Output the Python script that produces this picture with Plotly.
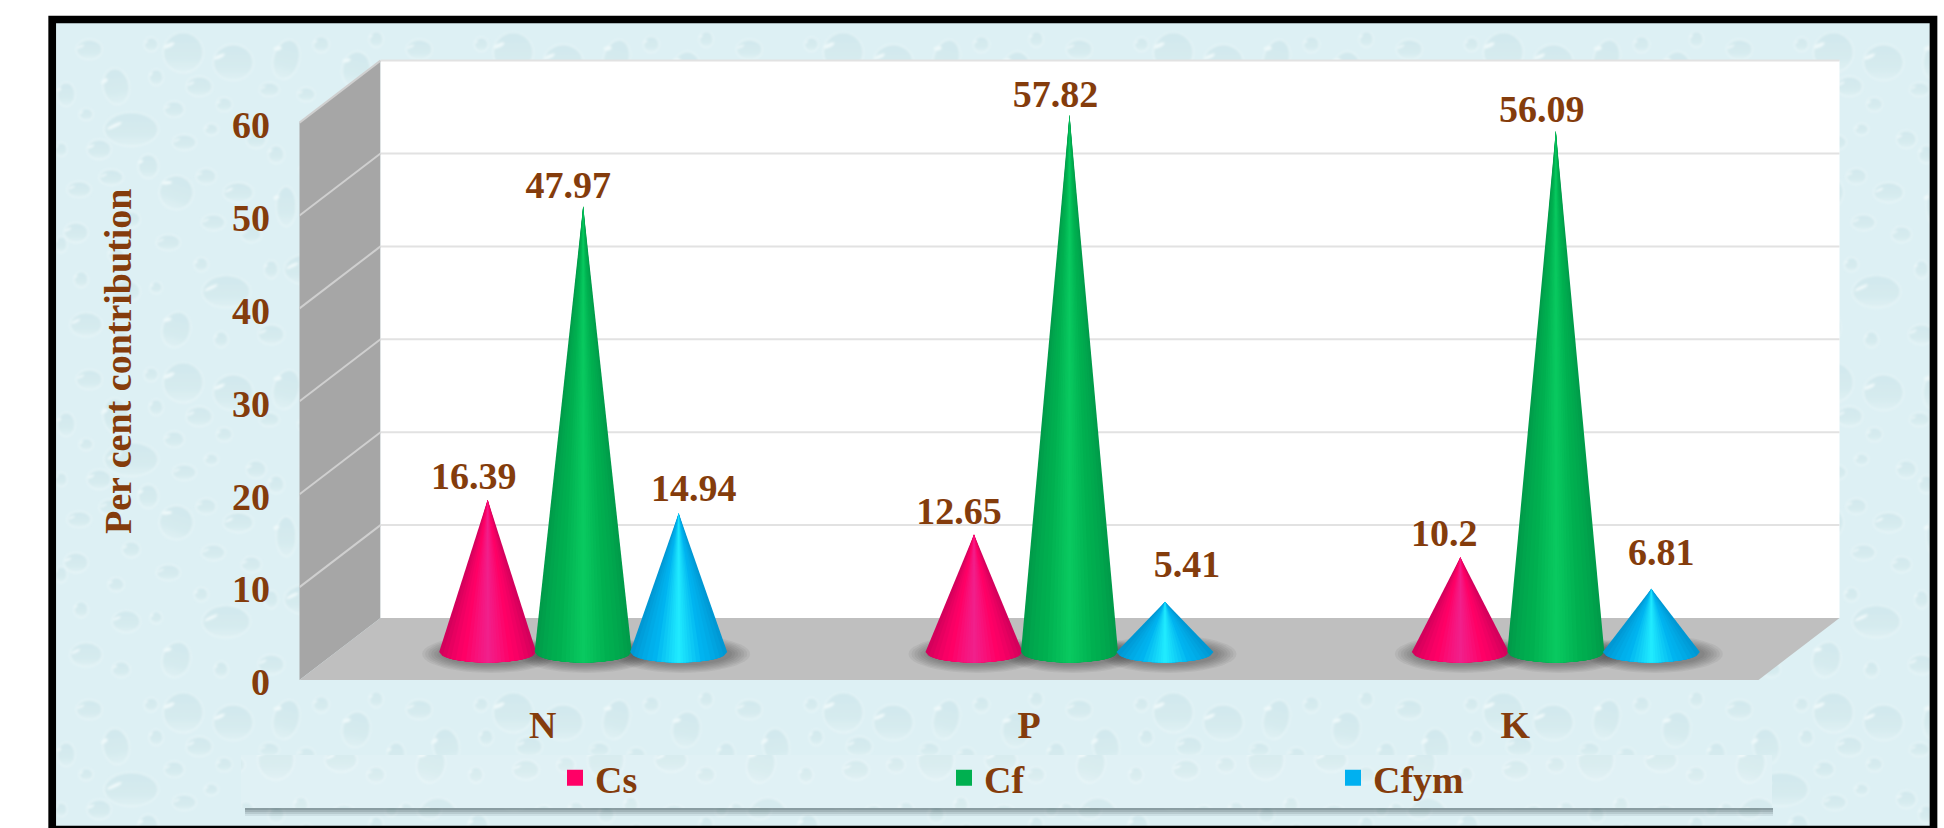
import base64
import math

import numpy as np
import plotly.graph_objects as go

# Chart values
NUTRIENTS = ["N", "P", "K"]
CS_VALUES = [16.39, 12.65, 10.2]
CF_VALUES = [47.97, 57.82, 56.09]
CFYM_VALUES = [14.94, 5.41, 6.81]
SERIES_NAMES = ["Cs", "Cf", "Cfym"]
Y_TICKS = [0, 10, 20, 30, 40, 50, 60]
Y_TITLE = "Per cent contribution"

# Page geometry
W, H = 1944, 828
FRONT_LEFT_PX, FRONT_RIGHT_PX = 299.5, 1758.5
FLOOR_FRONT_PX = 680.0
PX_PER_UNIT = 9.29
PX_PER_CAT = (FRONT_RIGHT_PX - FRONT_LEFT_PX) / 3
DEPTH_DX = 81 / PX_PER_CAT      # chart depth along x, in category units
DEPTH_DY = 62 / PX_PER_UNIT     # chart depth along y, in value units

X_RANGE = [-0.5 - FRONT_LEFT_PX / PX_PER_CAT, -0.5 + (W - FRONT_LEFT_PX) / PX_PER_CAT]
Y_RANGE = [-(H - FLOOR_FRONT_PX) / PX_PER_UNIT, FLOOR_FRONT_PX / PX_PER_UNIT]

BROWN = "#843c0c"
FONT = "Liberation Serif"
TEXT_SIZE = 38

FRAME = (52.2, 19.5, 1933.5, 829.6)
PANEL = (241, 755, 1772, 808)

# Water drops of the background tile: cx, cy, rx, ry, rotation
DROPS = [
    (75, 100, 27, 17, 0), (177, 33, 20, 18, 0), (60, 57, 13, 18, -10), (143, 57, 13, 10, 0),
    (118, 80, 10, 8, 0), (43, 120, 12, 10, 0), (92, 137, 10, 12, 0), (55, 148, 12, 8, 0),
    (23, 160, 12, 8, 0), (120, 163, 17, 17, 20), (150, 147, 10, 8, 0), (182, 163, 15, 10, 0),
    (128, 113, 12, 8, 0), (168, 75, 8, 7, 0), (213, 60, 10, 7, 0), (20, 203, 12, 10, 0),
    (112, 213, 12, 8, 0), (157, 193, 12, 8, 0), (33, 20, 13, 10, 0), (127, 23, 20, 20, 0),
    (230, 30, 13, 20, 15), (230, 177, 10, 20, 0), (262, 105, 18, 12, 0), (300, 40, 14, 18, 10),
    (285, 165, 12, 15, 0), (250, 240, 22, 15, 0), (310, 225, 13, 10, 0), (70, 262, 14, 11, 0),
    (170, 262, 24, 16, 0), (30, 295, 16, 12, 0), (120, 300, 14, 18, 15), (215, 305, 13, 10, 0),
    (295, 295, 18, 20, 0), (200, 110, 10, 9, 0), (75, 190, 9, 8, 0), (255, 300, 9, 8, 0),
    (10, 65, 9, 12, 0), (30, 85, 7, 6, 0), (100, 48, 7, 8, 0), (155, 100, 7, 6, 0),
    (220, 125, 8, 9, 0), (250, 65, 9, 7, 0), (300, 90, 8, 10, 0), (320, 135, 7, 8, 0),
    (250, 140, 7, 6, 0), (195, 205, 10, 8, 0), (60, 225, 8, 7, 0), (145, 235, 7, 7, 0),
    (215, 240, 7, 9, 0), (25, 250, 7, 8, 0), (100, 258, 6, 6, 0), (290, 215, 6, 6, 0),
    (65, 310, 9, 8, 0), (165, 310, 7, 8, 0), (255, 200, 6, 7, 0), (95, 15, 7, 7, 0),
    (265, 15, 8, 8, 0), (320, 10, 7, 8, 0), (5, 120, 6, 7, 0), (5, 215, 6, 8, 0),
]


def drops_svg(width, height, shift_x=0, shift_y=0):
    """Pale water-drop texture as an inline SVG image."""
    tile = 330
    parts = []
    for dx in (0, -tile, tile):
        for dy in (0, -tile, tile):
            for cx, cy, rx, ry, rot in DROPS:
                x, y = cx + dx, cy + dy
                if not (-40 < x < tile + 40 and -40 < y < tile + 40):
                    continue
                parts.append(
                    f'<g transform="translate({x} {y}) rotate({rot})">'
                    f'<ellipse rx="{rx}" ry="{ry}" fill="url(#drop)" stroke="#e9f6f8" stroke-width="1.2"/>'
                    f'<ellipse cx="{-rx * 0.5:.1f}" cy="{-ry * 0.62:.1f}" rx="{rx * 0.3:.1f}" '
                    f'ry="{max(ry * 0.1, 0.8):.1f}" fill="#eff9fa" transform="rotate(-25)"/></g>'
                )
    svg = (
        f'<svg xmlns="http://www.w3.org/2000/svg" width="{width}" height="{height}" '
        f'viewBox="0 0 {width} {height}">'
        '<defs><linearGradient id="drop" x1="0" y1="0" x2="0" y2="1">'
        '<stop offset="0" stop-color="#d1e8ed"/><stop offset="0.65" stop-color="#d6ebef"/>'
        '<stop offset="1" stop-color="#dff1f4"/></linearGradient>'
        '<filter id="soft"><feGaussianBlur stdDeviation="0.9"/></filter>'
        f'<pattern id="tile" width="{tile}" height="{tile}" patternUnits="userSpaceOnUse" '
        f'x="{shift_x}" y="{shift_y}">'
        f'<rect width="{tile}" height="{tile}" fill="#ddf0f4"/><g filter="url(#soft)">'
        + "".join(parts)
        + f'</g></pattern></defs><rect width="{width}" height="{height}" fill="url(#tile)"/></svg>'
    )
    return "data:image/svg+xml;base64," + base64.b64encode(svg.encode()).decode()


def page_image(box, shift_x, shift_y):
    x0, y0, x1, y1 = box
    return dict(source=drops_svg(round(x1 - x0), round(y1 - y0), shift_x, shift_y),
                xref="paper", yref="paper", x=x0 / W, y=1 - y0 / H,
                sizex=(x1 - x0) / W, sizey=(y1 - y0) / H,
                xanchor="left", yanchor="top", sizing="stretch", layer="below")


def project(cat, value, depth):
    """Position of a point at a given depth (0 front, 1 back) in axis coordinates."""
    return cat + depth * DEPTH_DX, value + depth * DEPTH_DY


def polygon(points, color):
    xs, ys = zip(*[project(*p) for p in points])
    path = "M" + " L".join(f"{x:.4f},{y:.4f}" for x, y in zip(xs, ys)) + " Z"
    return dict(type="path", path=path, xref="x", yref="y", fillcolor=color,
                line=dict(width=0), layer="below")


def segment(p, q, color, width):
    x0, y0 = project(*p)
    x1, y1 = project(*q)
    return dict(type="line", x0=x0, y0=y0, x1=x1, y1=y1, xref="x", yref="y",
                line=dict(color=color, width=width), layer="below")


def paper_rect(x0, y0, x1, y1, **style):
    return dict(type="rect", xref="paper", yref="paper", x0=x0 / W, x1=x1 / W,
                y0=1 - y0 / H, y1=1 - y1 / H, layer="below", **style)


LEFT, RIGHT, TOP = -0.5, 2.5, 60

shapes = [
    polygon([(LEFT, 0, 0), (LEFT, 0, 1), (LEFT, TOP, 1), (LEFT, TOP, 0)], "#a6a6a6"),
    polygon([(LEFT, 0, 0), (RIGHT, 0, 0), (RIGHT, 0, 1), (LEFT, 0, 1)], "#bfbfbf"),
    polygon([(LEFT, 0, 1), (RIGHT, 0, 1), (RIGHT, TOP, 1), (LEFT, TOP, 1)], "#ffffff"),
]
for tick in Y_TICKS[1:]:
    shapes.append(segment((LEFT, tick, 0), (LEFT, tick, 1), "#cfcfcf", 2))
    shapes.append(segment((LEFT, tick, 1), (RIGHT, tick, 1), "#e2e2e2", 2))

# Legend panel: a slightly lighter sheet with a soft shadow along its lower edge
for reach, alpha in ((8, 0.10), (6, 0.14), (4, 0.18), (2, 0.22)):
    shapes.append(paper_rect(PANEL[0] + 4, PANEL[3], PANEL[2] + 1, PANEL[3] + reach,
                             fillcolor=f"rgba(60,80,85,{alpha})", line=dict(width=0)))
shapes.append(paper_rect(*PANEL, fillcolor="rgba(255,255,255,0.10)", line=dict(width=0)))

# Outer frame
shapes.append(paper_rect(*FRAME, fillcolor="rgba(0,0,0,0)",
                         line=dict(color="#000000", width=7.7)))

# Cone construction
CONE_HALF_WIDTH = 48.5 / PX_PER_CAT
BASE_MINOR = 10.5 / PX_PER_UNIT
BASE_DROP = 3 / PX_PER_UNIT
CONE_STEP = 95.5 / PX_PER_CAT
PALETTES = {
    "Cs": ("#d4005c", "#ff0066", "#f0228e"),
    "Cf": ("#009c4a", "#00b050", "#0acb61"),
    "Cfym": ("#0098d4", "#00b4f0", "#22eeff"),
}
LEGEND_COLORS = {"Cs": "#ff0066", "Cf": "#00b050", "Cfym": "#00b0f0"}
SERIES = dict(zip(SERIES_NAMES, (CS_VALUES, CF_VALUES, CFYM_VALUES)))


def mix(a, b, t):
    ca = [int(a[i:i + 2], 16) for i in (1, 3, 5)]
    cb = [int(b[i:i + 2], 16) for i in (1, 3, 5)]
    return "rgb(" + ",".join(str(round(p + (q - p) * t)) for p, q in zip(ca, cb)) + ")"


def shade(palette, frac):
    edge, mid, core = palette
    if frac > 0.55:
        return mix(mid, edge, ((frac - 0.55) / 0.45) ** 1.4)
    return mix(core, mid, frac / 0.55)


fig = go.Figure()
FRACTIONS = [1.0, 0.93, 0.85, 0.76, 0.66, 0.55, 0.45, 0.36, 0.28, 0.21, 0.15, 0.09, 0.04]


def cone_base(cat_index, series_index):
    cx, cy = project(cat_index + (series_index - 1) * CONE_STEP, 0, 0.5)
    return cx, cy - BASE_DROP


def add_shadow(cx, cy):
    for grow in (20, 17, 14, 11, 8, 5, 2):
        theta = np.linspace(0, 2 * math.pi, 49)
        rx = CONE_HALF_WIDTH + grow / PX_PER_CAT
        ry = BASE_MINOR + 0.42 * grow / PX_PER_UNIT
        fig.add_trace(go.Scatter(
            x=cx + 3 / PX_PER_CAT + rx * np.cos(theta),
            y=cy - 2 / PX_PER_UNIT + ry * np.sin(theta),
            mode="lines", fill="toself", fillcolor="rgba(40,40,40,0.06)",
            line=dict(width=0), hoverinfo="skip", showlegend=False))


def add_cone(cx, cy, value, palette):
    for frac in FRACTIONS:
        edge_x = np.linspace(-frac, frac, 31)
        arc_y = -BASE_MINOR * np.sqrt(np.clip(1 - edge_x ** 2, 0, 1))
        fig.add_trace(go.Scatter(
            x=[cx, *(cx + edge_x * CONE_HALF_WIDTH), cx],
            y=[cy + value, *(cy + arc_y), cy + value],
            mode="lines", fill="toself", fillcolor=shade(palette, frac),
            line=dict(width=0), hoverinfo="skip", showlegend=False))


for i in range(len(NUTRIENTS)):
    for j in range(len(SERIES_NAMES)):
        add_shadow(*cone_base(i, j))
for i in range(len(NUTRIENTS)):
    for j, name in enumerate(SERIES_NAMES):
        add_cone(*cone_base(i, j), SERIES[name][i], PALETTES[name])

# Value labels, nudged clear of the cone tips (offsets in pixels)
LABEL_NUDGE = {
    ("Cs", 0): (-14, 20), ("Cf", 0): (-15, 18), ("Cfym", 0): (15, 22),
    ("Cs", 1): (-15, 20), ("Cf", 1): (-14, 17), ("Cfym", 1): (22, 34),
    ("Cs", 2): (-16, 21), ("Cf", 2): (-14, 18), ("Cfym", 2): (10, 33),
}
for j, name in enumerate(SERIES_NAMES):
    xs, ys, texts = [], [], []
    for i, value in enumerate(SERIES[name]):
        cx, cy = cone_base(i, j)
        nudge_x, nudge_y = LABEL_NUDGE[(name, i)]
        xs.append(cx + nudge_x / PX_PER_CAT)
        ys.append(cy + value + nudge_y / PX_PER_UNIT)
        texts.append(str(value))
    fig.add_trace(go.Scatter(
        x=xs, y=ys, text=texts, mode="text", textposition="middle center",
        textfont=dict(family=FONT, size=TEXT_SIZE, color=BROWN, weight=700),
        hoverinfo="skip", showlegend=False, cliponaxis=False))

# Legend entries
for name in SERIES_NAMES:
    fig.add_trace(go.Scatter(
        x=[None], y=[None], mode="markers", name=name,
        marker=dict(symbol="square", size=18, color=LEGEND_COLORS[name]),
        hoverinfo="skip", showlegend=True))

tick_font = dict(family=FONT, size=TEXT_SIZE, color=BROWN, weight=700)
fig.update_layout(
    width=W, height=H, autosize=False,
    margin=dict(l=0, r=0, t=0, b=0),
    paper_bgcolor="#ffffff", plot_bgcolor="rgba(0,0,0,0)",
    font=tick_font,
    shapes=shapes,
    images=[page_image(FRAME, 4, 10), page_image(PANEL, 70, 40)],
    xaxis=dict(range=X_RANGE, domain=[0, 1], tickvals=[0, 1, 2], ticktext=NUTRIENTS,
               anchor="free", position=1 - 699 / H, showgrid=False, zeroline=False,
               showline=False, ticks="", tickfont=tick_font),
    yaxis=dict(range=Y_RANGE, domain=[0, 1], tickvals=Y_TICKS,
               anchor="free", position=270 / W, showgrid=False, zeroline=False,
               showline=False, ticks="", tickfont=tick_font, ticklabelshift=2),
    legend=dict(orientation="h", x=555 / W, xanchor="left", y=1 - 778 / H, yanchor="middle",
                bgcolor="rgba(0,0,0,0)", borderwidth=0, entrywidth=344, entrywidthmode="pixels",
                itemwidth=30, itemclick=False, itemdoubleclick=False, font=tick_font),
    annotations=[dict(text=Y_TITLE, xref="paper", yref="paper", x=118 / W, y=1 - 362 / H,
                      textangle=-90, showarrow=False, xanchor="center", yanchor="middle",
                      font=tick_font)],
    hovermode=False,
)

fig.write_html("out.html", config={"displayModeBar": False})
